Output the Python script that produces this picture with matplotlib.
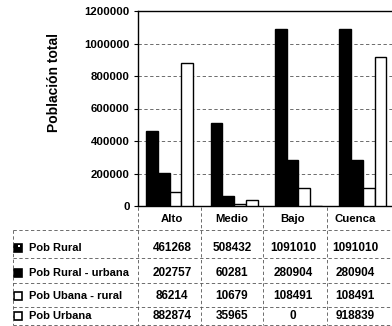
import numpy as np
import matplotlib.pyplot as plt
from matplotlib.lines import Line2D
from matplotlib.patches import Rectangle

plt.rcParams['font.family'] = ['Liberation Sans', 'DejaVu Sans']

# Datos por zona
zonas = ['Alto', 'Medio', 'Bajo', 'Cuenca']
series = ['Pob Rural', 'Pob Rural - urbana', 'Pob Ubana - rural', 'Pob Urbana']
pob_rural = [461268, 508432, 1091010, 1091010]
pob_rural_urbana = [202757, 60281, 280904, 280904]
pob_urbana_rural = [86214, 10679, 108491, 108491]
pob_urbana = [882874, 35965, 0, 918839]
valores = [pob_rural, pob_rural_urbana, pob_urbana_rural, pob_urbana]
rellenos = ['black', 'black', 'white', 'white']

W, H = 392, 326


def fx(px):
    return px / W


def fy(py):
    return 1 - py / H


fig = plt.figure(figsize=(W / 100, H / 100), dpi=100)
ax = fig.add_axes([fx(137.5), fy(206), (395 - 137.5) / W, (206 - 11) / H])

x = np.arange(len(zonas))
ancho = 0.183
for i, (vals, c) in enumerate(zip(valores, rellenos)):
    ax.bar(x + (i - 1.5) * ancho, vals, ancho, color=c, edgecolor='black',
           linewidth=1.0, zorder=3)

ax.set_xlim(-0.5, 3.5)
ax.set_ylim(0, 1200000)
ax.set_yticks(np.arange(0, 1200001, 200000))
ax.set_yticklabels([str(v) for v in range(0, 1200001, 200000)],
                   fontsize=8.2, fontweight='bold')
ax.tick_params(axis='y', length=3, width=0.8, pad=2.5)
ax.set_xticks([])
ax.grid(axis='y', color='#555555', linestyle=(0, (4, 3)), linewidth=0.6, zorder=0)
for s in ax.spines.values():
    s.set_linewidth(1.0)
    s.set_color('black')

fig.text(fx(54), fy(83), 'Población total', rotation=90, fontsize=10,
         fontweight='bold', ha='center', va='center')

# Tabla de datos bajo el gráfico
col_x = [172, 232, 293, 355]
fila_y = [248, 273, 296, 316]
for cx, z in zip(col_x, zonas):
    fig.text(fx(cx), fy(219), z, fontsize=8.2, fontweight='bold',
             ha='center', va='center')

for r, (nombre, vals, c) in enumerate(zip(series, valores, rellenos)):
    y = fila_y[r]
    fig.patches.append(Rectangle((fx(14), fy(y + 4)), 8 / W, 8 / H,
                                 facecolor=c, edgecolor='black', linewidth=1.2,
                                 transform=fig.transFigure, figure=fig))
    if r == 0:
        fig.patches.append(Rectangle((fx(18), fy(y - 1)), 2 / W, 2 / H,
                                     facecolor='white', edgecolor='none',
                                     transform=fig.transFigure, figure=fig))
    fig.text(fx(29), fy(y), nombre, fontsize=8, fontweight='bold',
             ha='left', va='center')
    for cx, v in zip(col_x, vals):
        fig.text(fx(cx), fy(y), str(v), fontsize=8.5, fontweight='bold',
                 ha='center', va='center')

estilo = dict(color='#555555', linewidth=0.6, linestyle=(0, (4, 3)),
              transform=fig.transFigure)
for ly in [230, 258, 283, 307, 325]:
    fig.lines.append(Line2D([fx(13), fx(392)], [fy(ly), fy(ly)], **estilo))
fig.lines.append(Line2D([fx(13), fx(13)], [fy(230), fy(325)], **estilo))
for lx in [201, 263, 327]:
    fig.lines.append(Line2D([fx(lx), fx(lx)], [fy(207), fy(325)], **estilo))
fig.lines.append(Line2D([fx(138), fx(138)], [fy(207), fy(325)], **estilo))

fig.savefig('out.png', dpi=100)
